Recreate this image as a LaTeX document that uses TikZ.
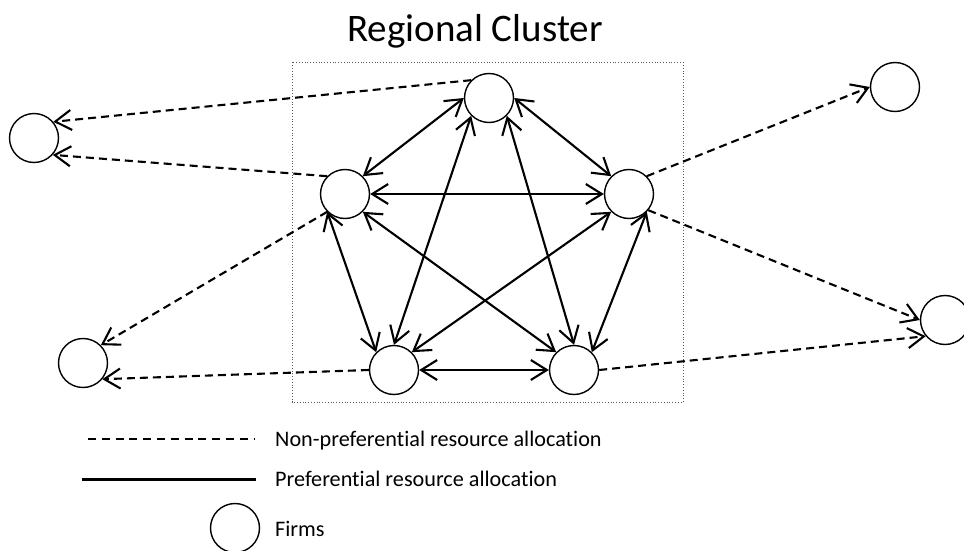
\documentclass[tikz,border=0pt]{standalone}
\usepackage{fontspec}
\setmainfont[Ligatures={NoCommon}]{Carlito}
\usetikzlibrary{arrows.meta}
\begin{document}
\begin{tikzpicture}[x=1pt,y=-1pt,
  firm/.style={circle,draw=black,line width=1.4pt,minimum size=49pt,inner sep=0pt,fill=white},
  pref/.style={line width=2.1pt,{Straight Barb[length=16pt,width=20pt]}-{Straight Barb[length=16pt,width=20pt]}},
  nonpref/.style={line width=2.1pt,dash pattern=on 8pt off 5pt,-{Straight Barb[length=16pt,width=20pt]}},
  legtext/.style={anchor=base west,inner sep=0pt,font=\fontsize{22.2}{26}\selectfont}]
\useasboundingbox (0,0) rectangle (964,551);
% cluster box
\draw[gray!70!black,line width=0.8pt,dotted] (292,62.5) rectangle (683,402);
\node[anchor=base,inner sep=0pt,font=\fontsize{39}{46}\selectfont] (title) at (475,41.7) {Regional Cluster};
% firms
\node[firm] (T) at (489,98) {};
\node[firm] (L) at (345,194) {};
\node[firm] (R) at (629,194) {};
\node[firm] (BL) at (394,370) {};
\node[firm] (BR) at (574,370) {};
\node[firm] (FL) at (34,138) {};
\node[firm] (OBL) at (83,363) {};
\node[firm] (TR) at (895,87) {};
\node[firm] (RR) at (945,320) {};
% preferential
\draw[pref] (T.180) -- (L.45);
\draw[pref] (T.0) -- (R.135);
\draw[pref] (L.0) -- (R.180);
\draw[pref] (T.225) -- (BL.90);
\draw[pref] (T.315) -- (BR.90);
\draw[pref] (L.225) -- (BL.135);
\draw[pref] (L.315) -- (BR.135);
\draw[pref] (R.225) -- (BL.45);
\draw[pref] (R.315) -- (BR.45);
\draw[pref] (BL.0) -- (BR.180);
% non-preferential
\draw[nonpref] (T.135) -- (FL.40);
\draw[nonpref] (L.135) -- (FL.318);
\draw[nonpref] (L.225) -- (OBL.45);
\draw[nonpref] (BL.180) -- (OBL.320);
\draw[nonpref] (R.45) -- (TR.180);
\draw[nonpref] (R.320) -- (RR.180);
\draw[nonpref] (BR.0) -- (RR.220);
% legend
\coordinate (d1) at (88,439);
\coordinate (d2) at (255,439);
\coordinate (s1) at (82,479);
\coordinate (s2) at (256,479);
\draw[line width=1.5pt,dash pattern=on 8pt off 5.8pt] (d1) -- (d2);
\draw[line width=3pt] (s1) -- (s2);
\node[firm] (LC) at (235,528) {};
\node[legtext] (t1) at (275,446) {Non-preferential resource allocation};
\node[legtext] (t2) at (275,486) {Preferential resource allocation};
\node[legtext] (t3) at (275,536.7) {Firms};
\end{tikzpicture}
\end{document}
